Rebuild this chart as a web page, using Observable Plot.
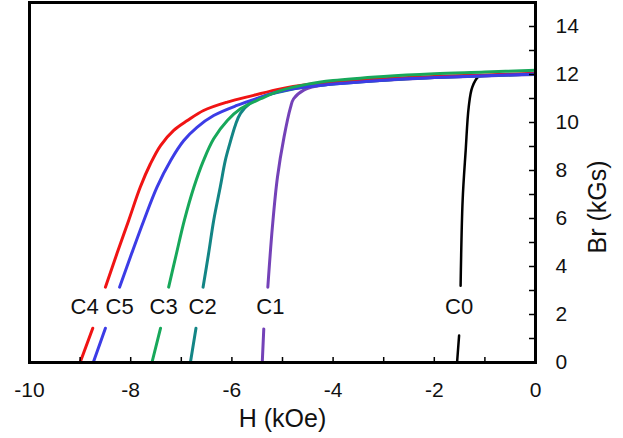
<!DOCTYPE html>
<html><head><meta charset="utf-8">
<script src="https://cdn.jsdelivr.net/npm/d3@7"></script>
<script src="https://cdn.jsdelivr.net/npm/@observablehq/plot@0.6"></script>
<style>body{margin:0;background:#fff}</style>
</head><body><div id="chart"></div>
<script>
// Demagnetization curves: [H (kOe), Br (kGs)]; null marks where the curve is hidden behind its label
const C0 = [[-1.55,0],[-1.51,1.12],null,[-1.48,3.2],[-1.44,6.75],[-1.38,8.83],[-1.32,10.64],[-1.25,11.47],[-1.12,11.92],[-0.9,11.97],[0,12.0]];
const C1 = [[-5.40,0],[-5.37,1.4],null,[-5.29,3.14],[-5.2,5.64],[-5.1,7.72],[-4.97,9.39],[-4.84,10.64],[-4.78,10.99],[-4.58,11.35],[-4.31,11.52],[-3.85,11.65],[-3,11.76],[-2,11.87],[-1,11.94],[0,12.0]];
const C2 = [[-6.82,0],[-6.71,1.43],null,[-6.57,3.14],[-6.46,4.55],[-6.36,5.92],[-6.23,7.31],[-6.13,8.42],[-6.03,9.2],[-5.93,9.9],[-5.83,10.38],[-5.63,10.82],[-5.37,11.1],[-5.04,11.28],[-4.5,11.5],[-4,11.6],[-3,11.76],[-2,11.87],[-1,11.95],[0,12.02]];
const C3 = [[-7.58,0],[-7.41,1.43],null,[-7.25,3.14],[-7.1,4.5],[-6.94,5.92],[-6.75,7.31],[-6.56,8.42],[-6.36,9.32],[-6.09,10.08],[-5.83,10.57],[-5.43,10.99],[-5.04,11.33],[-4.5,11.6],[-4,11.75],[-3,11.92],[-2,12.03],[-1,12.1],[0,12.18]];
const C4 = [[-9.0,0],[-8.75,1.43],null,[-8.5,3.14],[-8.27,4.55],[-8.04,5.92],[-7.81,7.31],[-7.61,8.28],[-7.41,9.04],[-7.15,9.67],[-6.88,10.08],[-6.56,10.5],[-6.09,10.85],[-5.57,11.13],[-5.04,11.4],[-4.5,11.58],[-4,11.68],[-3,11.82],[-2,11.92],[-1,11.98],[0,12.05]];
const C5 = [[-8.74,0],[-8.5,1.43],null,[-8.22,3.14],[-7.98,4.55],[-7.74,5.92],[-7.48,7.31],[-7.21,8.42],[-6.95,9.25],[-6.69,9.8],[-6.36,10.29],[-5.9,10.71],[-5.43,11.05],[-5.04,11.3],[-4.5,11.5],[-4,11.6],[-3,11.76],[-2,11.87],[-1,11.95],[0,12.02]];

const drawOrder = ["C0","C1","C2","C4","C5","C3"];
const curves = {C0, C1, C2, C3, C4, C5};
const colors = {C0:"#000000", C1:"#7442b8", C2:"#138585", C3:"#17a85a", C4:"#f01414", C5:"#3c3ce6"};

const labelNames = ["C4","C5","C3","C2","C1","C0"];
const labelH = [-8.91,-8.22,-7.35,-6.58,-5.24,-1.51];
const labelB = [2.3,2.3,2.3,2.3,2.3,2.3];

const xTickLabels = [-10,-8,-6,-4,-2,0];
const yTickLabels = [0,2,4,6,8,10,12,14];
const xMinorTicks = [-10,-9,-8,-7,-6,-5,-4,-3,-2,-1,0];
const yMinorTicks = [0,1,2,3,4,5,6,7,8,9,10,11,12,13,14];

const xLabel = "H (kOe)";
const yLabel = "Br (kGs)";

const toRows = pts => pts.map(p => p ? {H: p[0], B: p[1]} : {H: NaN, B: NaN});
const labels = labelNames.map((n, i) => ({n, H: labelH[i], B: labelB[i]}));
const font = "Liberation Sans, Arial, Helvetica, sans-serif";

const chart = Plot.plot({
  width: 623, height: 438,
  marginLeft: 29, marginRight: 88, marginTop: 2, marginBottom: 76,
  x: {domain: [-10, 0]},
  y: {domain: [0, 15]},
  style: {fontFamily: font, fontSize: "21px", color: "#111", background: "white"},
  marks: [
    ...drawOrder.map(name => Plot.line(toRows(curves[name]), {
      x: "H", y: "B", stroke: colors[name], strokeWidth: name === "C0" ? 2.5 : 3, curve: "catmull-rom"
    })),
    Plot.text(labels, {x: "H", y: "B", text: "n", fontSize: 22, fill: "#111"}),
    Plot.tickX(xMinorTicks, {x: d => d, insetTop: 355, stroke: "black", strokeWidth: 1.5}),
    Plot.tickY(yMinorTicks, {y: d => d, insetLeft: 500, stroke: "black", strokeWidth: 1.5}),
    Plot.frame({stroke: "black", strokeWidth: 3}),
    Plot.axisX(xTickLabels, {tickSize: 0, tickPadding: 20, tickFormat: d => String(d), fontSize: 21, label: null}),
    Plot.axisY(yTickLabels, {anchor: "right", tickSize: 0, tickPadding: 20, tickFormat: d => String(d), fontSize: 21, label: null}),
    Plot.text([xLabel], {text: d => d, frameAnchor: "bottom", dy: 64, fontSize: 25, fill: "#111"}),
    Plot.text([yLabel], {text: d => d, frameAnchor: "right", dx: 62, dy: -22, rotate: -90, fontSize: 25, fill: "#111"})
  ]
});
document.getElementById("chart").appendChild(chart);
</script>
</body></html>
